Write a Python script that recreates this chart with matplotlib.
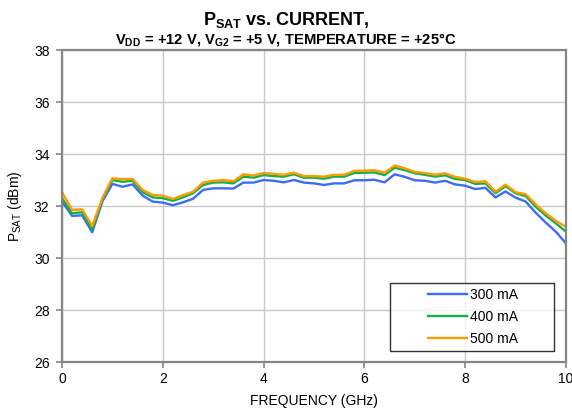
import matplotlib
matplotlib.use("Agg")
import matplotlib.pyplot as plt
import numpy as np
from matplotlib.legend_handler import HandlerLine2D

plt.rcParams['font.family'] = ['Liberation Sans', 'DejaVu Sans']
plt.rcParams['mathtext.fontset'] = 'custom'
plt.rcParams['mathtext.rm'] = 'Liberation Sans'
plt.rcParams['mathtext.bf'] = 'Liberation Sans:bold'

# frequency points, 0.2 GHz steps
freq = np.round(np.arange(0, 10.01, 0.2), 1)

p300 = [32.17, 31.62, 31.64, 30.99, 32.17, 32.85, 32.74, 32.83, 32.40, 32.17,
        32.13, 32.03, 32.14, 32.28, 32.62, 32.68, 32.68, 32.67, 32.90, 32.90,
        33.00, 32.97, 32.91, 33.00, 32.90, 32.87, 32.81, 32.87, 32.87, 32.99,
        32.99, 33.01, 32.91, 33.22, 33.12, 32.99, 32.97, 32.90, 32.97, 32.83,
        32.78, 32.65, 32.70, 32.33, 32.56, 32.32, 32.17, 31.74, 31.36, 31.01,
        30.56]
p400 = [32.30, 31.72, 31.76, 31.10, 32.23, 33.00, 32.93, 32.97, 32.53, 32.33,
        32.30, 32.20, 32.33, 32.49, 32.81, 32.90, 32.91, 32.87, 33.13, 33.09,
        33.19, 33.15, 33.13, 33.22, 33.09, 33.09, 33.05, 33.13, 33.13, 33.27,
        33.28, 33.29, 33.19, 33.47, 33.38, 33.26, 33.20, 33.13, 33.18, 33.04,
        33.00, 32.85, 32.87, 32.49, 32.76, 32.49, 32.38, 31.97, 31.63, 31.33,
        31.01]
p500 = [32.53, 31.85, 31.87, 31.23, 32.30, 33.07, 33.03, 33.04, 32.62, 32.42,
        32.40, 32.27, 32.42, 32.55, 32.90, 32.97, 33.00, 32.95, 33.22, 33.17,
        33.27, 33.24, 33.20, 33.28, 33.15, 33.15, 33.13, 33.20, 33.20, 33.35,
        33.36, 33.38, 33.28, 33.56, 33.45, 33.31, 33.27, 33.20, 33.26, 33.12,
        33.05, 32.92, 32.95, 32.55, 32.82, 32.53, 32.45, 32.06, 31.72, 31.43,
        31.20]

labels = ["300 mA", "400 mA", "500 mA"]
colors = ["#3a6cf4", "#13b04b", "#ff9a00"]

fig = plt.figure(figsize=(5.72, 4.13), dpi=100)
ax = fig.add_axes([62 / 572, 1 - 362 / 413, 504 / 572, 312 / 413])

for vals, lab, col in zip([p300, p400, p500], labels, colors):
    ax.plot(freq, vals, color=col, lw=1.7, label=lab)

ax.set_xlim(0, 10)
ax.set_ylim(26, 38)
ax.set_xticks(np.arange(0, 11, 2))
ax.set_yticks(np.arange(26, 39, 2))
ax.grid(True, color="#c8c8c8", lw=1.0)
ax.set_axisbelow(True)
for s in ax.spines.values():
    s.set_color("#858585")
    s.set_linewidth(1.6)
ax.tick_params(direction="out", length=4, width=1.2, color="#858585",
               labelsize=10, pad=3)
ax.tick_params(axis="y", pad=5)

ax.set_xlabel("FREQUENCY (GHz)", fontsize=10, labelpad=6)
ax.set_ylabel(r"P$_{\mathrm{SAT}}$ (dBm)", fontsize=10, labelpad=7)

fig.text(0.5, 1 - 20 / 413, r"$\mathbf{P_{SAT}}$ vs. CURRENT,", ha="center",
         va="center", fontsize=13, fontweight="bold")
fig.text(0.5, 1 - 39 / 413,
         r"$\mathbf{V_{DD}}$ = +12 V, $\mathbf{V_{G2}}$ = +5 V, TEMPERATURE = +25°C",
         ha="center", va="center", fontsize=10.6, fontweight="bold")

leg = ax.legend(loc="lower right", bbox_to_anchor=(0.976, 0.035),
                fontsize=10, frameon=True, fancybox=False, borderpad=0.4,
                handlelength=5.2, handletextpad=0.2, labelspacing=0.55,
                borderaxespad=0,
                handler_map={matplotlib.lines.Line2D: HandlerLine2D(xpad=2.4)})
leg.get_frame().set_edgecolor("black")
leg.get_frame().set_linewidth(1.0)
for t in leg.get_texts():
    t.set_text(t.get_text() + "        ")

fig.savefig("out.png", dpi=100)
